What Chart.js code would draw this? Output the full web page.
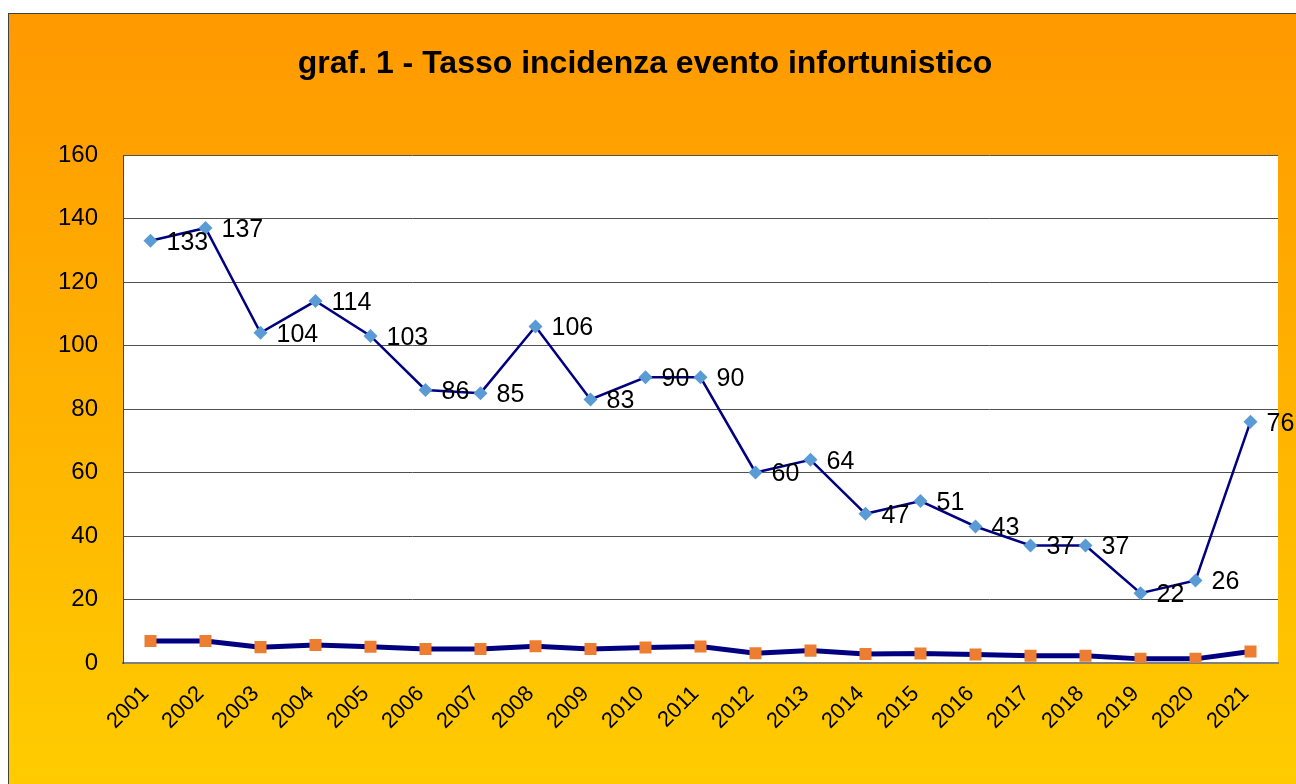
<!DOCTYPE html>
<html>
<head>
<meta charset="utf-8">
<script src="https://cdn.jsdelivr.net/npm/chart.js@4.4.0/dist/chart.umd.min.js"></script>
<style>
  html, body { margin: 0; padding: 0; background: #fff; }
  #wrap { position: absolute; left: 0; top: 0; width: 1296px; height: 784px; }
</style>
</head>
<body>
<div id="wrap"><canvas id="graf1" width="1296" height="784"></canvas></div>
<script>
var anni = ["2001", "2002", "2003", "2004", "2005", "2006", "2007", "2008", "2009", "2010", "2011",
            "2012", "2013", "2014", "2015", "2016", "2017", "2018", "2019", "2020", "2021"];
var tassoIncidenza = [133, 137, 104, 114, 103, 86, 85, 106, 83, 90, 90, 60, 64, 47, 51, 43, 37, 37, 22, 26, 76];
var serieBassa = [6.9, 6.9, 5.0, 5.7, 5.1, 4.4, 4.4, 5.3, 4.4, 4.9, 5.2, 3.1, 3.9, 2.8, 3.0, 2.7, 2.3, 2.3, 1.3, 1.3, 3.6];
var titolo = "graf. 1 - Tasso incidenza evento infortunistico";

var FONT = "Arial, 'Liberation Sans', sans-serif";

// sfondo arancio/giallo con cornice, titolo e area bianca del grafico
var sfondo = {
    id: "sfondo",
    beforeDraw: function(chart) {
        var ctx = chart.ctx;
        var a = chart.chartArea;
        ctx.save();
        ctx.fillStyle = "#ffffff";
        ctx.fillRect(0, 0, chart.width, chart.height);
        var g = ctx.createLinearGradient(0, 13, 0, chart.height);
        g.addColorStop(0, "#FF9900");
        g.addColorStop(1, "#FFCC00");
        ctx.fillStyle = g;
        ctx.fillRect(8, 13, chart.width, chart.height);
        ctx.strokeStyle = "#404040";
        ctx.lineWidth = 1;
        ctx.strokeRect(8.5, 13.5, chart.width + 10, chart.height + 10);
        ctx.fillStyle = "#ffffff";
        ctx.fillRect(a.left, a.top, a.right - a.left, a.bottom - a.top);

        ctx.fillStyle = "#000000";
        ctx.font = "bold 32px " + FONT;
        ctx.textAlign = "center";
        ctx.textBaseline = "middle";
        ctx.fillText(titolo, 645, 64);
        ctx.restore();
    }
};

// etichette valori a destra dei punti (solo serie principale)
var etichette = {
    id: "etichette",
    afterDatasetsDraw: function(chart) {
        var ctx = chart.ctx;
        var meta = chart.getDatasetMeta(0);
        ctx.save();
        ctx.font = "25px " + FONT;
        ctx.fillStyle = "#000000";
        ctx.textAlign = "left";
        ctx.textBaseline = "middle";
        meta.data.forEach(function(pt, i) {
            ctx.fillText(String(tassoIncidenza[i]), pt.x + 16, pt.y + 2);
        });
        ctx.restore();
    }
};

new Chart("graf1", {
    type: "line",
    data: {
        labels: anni,
        datasets: [{
            data: tassoIncidenza,
            borderColor: "#000080",
            borderWidth: 2.5,
            backgroundColor: "#5B9BD5",
            pointStyle: "rectRot",
            pointRadius: 7,
            pointBorderWidth: 0,
            pointBackgroundColor: "#5B9BD5",
            tension: 0
        }, {
            data: serieBassa,
            borderColor: "#000080",
            borderWidth: 5,
            backgroundColor: "#ED7D31",
            pointStyle: "rect",
            pointRadius: 8.5,
            pointBorderWidth: 0,
            pointBackgroundColor: "#ED7D31",
            tension: 0
        }]
    },
    options: {
        responsive: false,
        animation: false,
        layout: { padding: { left: 0, right: 18, top: 155, bottom: 0 } },
        plugins: {
            legend: { display: false },
            tooltip: { enabled: false },
            title: { display: false }
        },
        scales: {
            x: {
                offset: true,
                grid: { display: false, drawTicks: false },
                border: { display: true, color: "#808080", width: 2 },
                ticks: {
                    color: "#000000",
                    font: { family: FONT, size: 22 },
                    minRotation: 45,
                    maxRotation: 45,
                    padding: 18,
                    labelOffset: -5
                },
                afterFit: function(scale) { scale.height = 121; }
            },
            y: {
                min: 0,
                max: 160,
                grid: { color: "#505050", lineWidth: 1, drawTicks: false },
                border: { display: true, color: "#404040", width: 1 },
                ticks: {
                    stepSize: 20,
                    color: "#000000",
                    font: { family: FONT, size: 24 },
                    padding: 25
                },
                afterFit: function(scale) { scale.width = 123; }
            }
        }
    },
    plugins: [sfondo, etichette]
});
</script>
</body>
</html>
